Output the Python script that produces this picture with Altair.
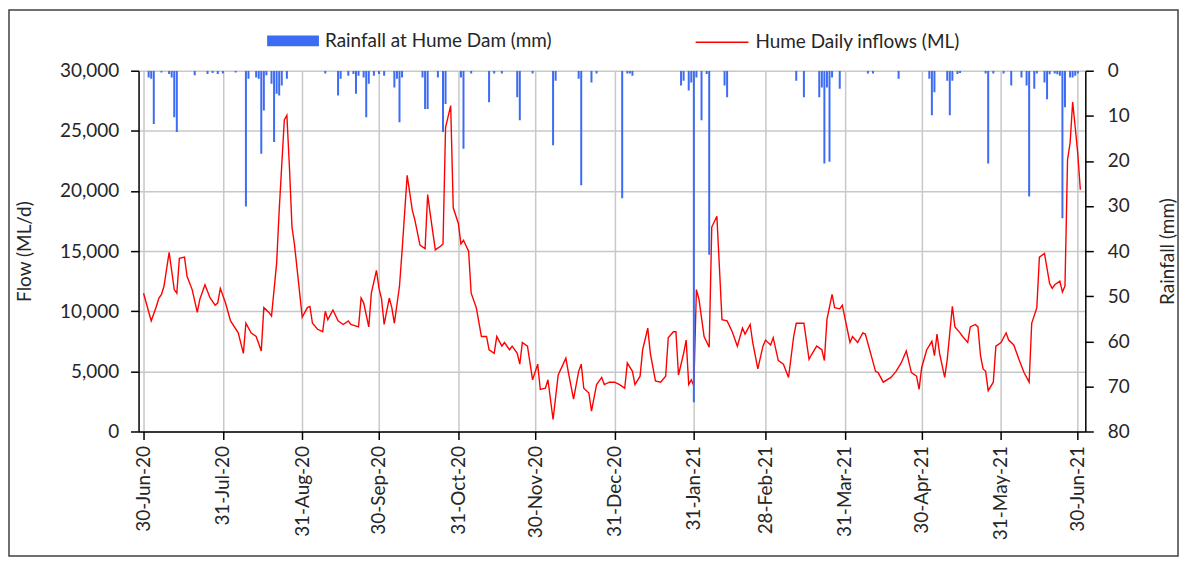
import altair as alt
import pandas as pd

FLOW_NAME = "Hume Daily inflows (ML)"
RAIN_NAME = "Rainfall at Hume Dam (mm)"
START = "2020-06-30"

# days after 30-Jun-2020, flow in ML/d
flow_day = [0, 3, 5, 6, 7, 8, 10, 12, 13, 14, 16, 17, 19, 21, 22, 24, 26, 28, 29, 30,
            32, 34, 37, 39, 40, 42, 44, 46, 47, 49, 50, 52, 53, 55, 56, 57, 58, 59, 60, 61,
            62, 64, 65, 66, 68, 70, 71, 72, 74, 76, 78, 80, 81, 84, 85, 86, 88, 89, 91, 92,
            93, 94, 96, 97, 98, 100, 101, 103, 105, 106, 108, 110, 111, 112, 114, 116, 117, 118, 120, 121,
            123, 124, 125, 127, 128, 130, 132, 134, 135, 137, 138, 140, 141, 143, 144, 146, 147, 148, 150, 152,
            154, 155, 157, 158, 160, 162, 165, 166, 168, 170, 171, 172, 174, 175, 177, 179, 180, 182, 184, 186,
            188, 189, 191, 192, 194, 195, 197, 198, 200, 202, 204, 205, 207, 208, 209, 211, 212, 213, 214, 215,
            216, 217, 219, 221, 222, 224, 226, 228, 230, 232, 234, 235, 237, 238, 240, 242, 243, 245, 246, 248,
            250, 252, 254, 255, 258, 260, 261, 263, 265, 266, 267, 269, 270, 272, 273, 276, 277, 279, 281, 282,
            286, 287, 289, 292, 294, 296, 298, 300, 302, 303, 304, 306, 308, 309, 310, 311, 313, 314, 316, 317,
            319, 320, 322, 323, 325, 326, 327, 328, 329, 330, 332, 333, 335, 337, 338, 340, 342, 344, 346, 347,
            349, 350, 352, 354, 355, 356, 358, 359, 360, 361, 362, 363, 364, 365, 366]
flow_ml = [11500, 9200, 10400, 11100, 11400, 12100, 14900, 11800, 11500, 14400, 14500, 12900, 11800, 9900, 11000, 12200, 11100, 10500, 10700, 11900,
           10700, 9200, 8200, 6500, 9000, 8200, 7900, 6700, 10300, 9900, 9600, 14000, 18400, 25900, 26300, 22000, 17000, 15500, 13500, 11500,
           9500, 10300, 10400, 9000, 8500, 8300, 10000, 9300, 10100, 9200, 8900, 9200, 8900, 8700, 11100, 10700, 8700, 11500, 13400, 11900,
           11000, 8900, 11100, 10300, 9000, 12100, 15000, 21300, 18400, 17600, 15500, 15200, 19700, 18100, 15100, 15400, 15600, 25300, 27100, 18600,
           17300, 15600, 15900, 15000, 11500, 10300, 7900, 7900, 6800, 6500, 7900, 7100, 7400, 6800, 7100, 6500, 5600, 7400, 7100, 4300,
           5600, 3500, 3600, 4300, 1000, 4700, 6100, 4900, 2700, 5000, 5600, 3600, 3200, 1700, 3900, 4500, 3900, 4100, 4100, 3900,
           3600, 5700, 5000, 3900, 4600, 6800, 8600, 6500, 4200, 4100, 4600, 7800, 8300, 8300, 4700, 6500, 7600, 3900, 4300, 3800,
           11800, 11000, 7900, 7000, 17000, 17900, 9300, 9200, 8300, 7100, 8600, 8100, 8900, 7400, 5200, 7100, 7600, 7200, 7800, 5900,
           5600, 4500, 7900, 9000, 9000, 6000, 6400, 7100, 6800, 5900, 9300, 11400, 10300, 10200, 10500, 7400, 7900, 7400, 8200, 8100,
           5000, 4900, 4100, 4500, 5000, 5700, 6700, 4900, 4600, 3500, 5300, 6800, 7500, 6300, 8100, 6500, 4500, 6000, 10400, 8700,
           8200, 7900, 7400, 8700, 8900, 8700, 6300, 5200, 5000, 3400, 4100, 7100, 7400, 8200, 7600, 7200, 6000, 4900, 4100, 9000,
           10300, 14500, 14800, 12300, 11900, 12200, 12500, 11600, 12100, 22600, 24000, 27400, 25300, 23100, 20100]

# days after 30-Jun-2020 with rain, rainfall in mm
rain_day = [2, 3, 4, 7, 10, 11, 12, 13, 20, 25, 27, 29, 31, 36, 40, 41, 44, 45, 46, 47,
            48, 50, 51, 52, 53, 54, 56, 71, 76, 77, 80, 82, 83, 84, 86, 87, 88, 90, 92, 94,
            98, 99, 100, 101, 109, 110, 111, 115, 117, 118, 124, 125, 128, 135, 137, 140, 146, 147, 152, 160,
            161, 170, 171, 175, 177, 187, 189, 190, 191, 210, 211, 213, 214, 215, 216, 218, 220, 221, 227, 228,
            255, 258, 264, 265, 266, 267, 268, 269, 272, 283, 285, 295, 307, 308, 309, 314, 315, 316, 318, 319,
            329, 330, 332, 336, 339, 343, 345, 346, 348, 349, 352, 353, 354, 356, 357, 358, 359, 360, 362, 363,
            364, 365]
rain_mm = [1.5, 1.8, 11.8, 0.4, 0.7, 1.5, 10.3, 13.6, 1.0, 0.7, 0.5, 0.7, 0.6, 0.4, 30.1, 1.8, 1.5, 1.8, 18.4, 8.8,
           1.0, 2.9, 15.8, 5.1, 5.5, 3.3, 1.8, 0.6, 5.5, 1.8, 1.1, 0.7, 5.1, 1.1, 1.5, 10.3, 2.9, 1.1, 0.7, 1.1,
           3.7, 1.8, 11.4, 1.5, 1.5, 8.5, 8.5, 1.5, 13.6, 7.4, 1.5, 17.3, 0.6, 7.0, 0.6, 0.6, 5.9, 11.0, 0.6, 16.5,
           2.2, 1.8, 25.4, 2.6, 0.6, 28.3, 0.6, 0.6, 1.1, 3.3, 2.2, 4.4, 2.6, 73.5, 1.5, 11.0, 0.7, 40.8, 3.3, 5.9,
           2.2, 5.9, 5.9, 3.7, 20.6, 3.7, 20.2, 1.5, 4.0, 0.6, 0.6, 1.8, 1.8, 9.9, 4.8, 2.2, 9.9, 2.2, 0.7, 0.5,
           0.6, 20.6, 0.6, 0.6, 3.3, 1.5, 3.3, 27.9, 4.0, 0.6, 2.6, 6.3, 0.8, 0.6, 0.8, 1.1, 32.7, 8.1, 1.5, 1.5,
           1.1, 0.6]

tick_dates = ["2020-06-30", "2020-07-31", "2020-08-31", "2020-09-30", "2020-10-31", "2020-11-30",
              "2020-12-31", "2021-01-31", "2021-02-28", "2021-03-31", "2021-04-30", "2021-05-31",
              "2021-06-30"]
flow_ticks = [0, 5000, 10000, 15000, 20000, 25000, 30000]
rain_ticks = [0, 10, 20, 30, 40, 50, 60, 70, 80]

BLUE = "#3D6CF4"
RED = "#FF0000"
TEXT = "#262626"
GRID = "#C8C8C8"
FONT = "Lato"
FS = 19

base = pd.Timestamp(START)
flow_df = pd.DataFrame({"date": base + pd.to_timedelta(flow_day, unit="D"),
                        "flow": flow_ml, "series": FLOW_NAME})
rain_df = pd.DataFrame({"date": base + pd.to_timedelta(rain_day, unit="D"),
                        "rain": rain_mm, "series": RAIN_NAME})


def dt(s):
    t = pd.Timestamp(s)
    return alt.DateTime(year=t.year, month=t.month, date=t.day)


x_enc = alt.X(
    "date:T",
    scale=alt.Scale(domain=[dt("2020-06-30"), dt("2021-07-01")]),
    axis=alt.Axis(values=[dt(s) for s in tick_dates], format="%d-%b-%y", labelAngle=270,
                  tickSize=8, labelPadding=6, grid=True, gridColor=GRID, gridWidth=1.5,
                  domainColor="black", domainWidth=1.5, tickColor="black", tickWidth=1.5,
                  title=None, labelOverlap=False),
)

line = alt.Chart(flow_df).mark_line(strokeWidth=1.4, clip=True).encode(
    x=x_enc,
    y=alt.Y("flow:Q", scale=alt.Scale(domain=[0, 30000], nice=False),
            axis=alt.Axis(orient="left", values=flow_ticks, format=",.0f", title="Flow (ML/d)",
                          grid=True, gridColor=GRID, gridWidth=1.5, tickSize=8, labelPadding=12,
                          titlePadding=25, domainColor="black", domainWidth=1.5,
                          tickColor="black", tickWidth=1.5)),
    stroke=alt.Stroke("series:N", scale=alt.Scale(domain=[FLOW_NAME], range=[RED]),
                      legend=alt.Legend(title=None, orient="none", legendX=558, legendY=-56,
                                        symbolType="stroke", symbolSize=2809,
                                        symbolStrokeWidth=1.6, padding=0, labelOffset=6)),
)

bars = alt.Chart(rain_df).mark_bar(width=2, clip=True).encode(
    x=x_enc,
    y=alt.Y("rain:Q", scale=alt.Scale(domain=[0, 80], reverse=True, nice=False),
            axis=alt.Axis(orient="right", values=rain_ticks, title="Rainfall (mm)",
                          titleAngle=270, titleBaseline="top", grid=False, tickSize=8,
                          labelPadding=14, titlePadding=29, domainColor="black",
                          domainWidth=1.5, tickColor="black", tickWidth=1.5)),
    fill=alt.Fill("series:N", scale=alt.Scale(domain=[RAIN_NAME], range=[BLUE]),
                  legend=alt.Legend(title=None, orient="none", legendX=129, legendY=-56,
                                    symbolType="M-1,-0.21L1,-0.21L1,0.21L-1,0.21Z",
                                    symbolSize=2704, symbolStrokeWidth=0, padding=0,
                                    labelOffset=6)),
)

border = alt.Chart(alt.Data(values=[{"k": 1}])).mark_rect(
    fill="white", fillOpacity=0, stroke="#404040", strokeWidth=1.5
).encode(
    x=alt.value(-130), x2=alt.value(1043), y=alt.value(-61), y2=alt.value(487)
)

chart = (
    alt.layer(line, bars, border)
    .resolve_scale(y="independent")
    .properties(width=950, height=362,
                autosize=alt.AutoSizeParams(type="none"),
                padding={"left": 131, "top": 62, "right": 94, "bottom": 126})
    .configure(font=FONT)
    .configure_view(strokeWidth=0)
    .configure_axis(labelFont=FONT, titleFont=FONT, labelFontSize=FS, titleFontSize=FS,
                    labelColor=TEXT, titleColor=TEXT, titleFontWeight="normal")
    .configure_legend(labelFont=FONT, labelFontSize=FS, labelColor=TEXT, labelLimit=0)
)

chart.save("out.html", embed_options={"renderer": "svg", "actions": False})
